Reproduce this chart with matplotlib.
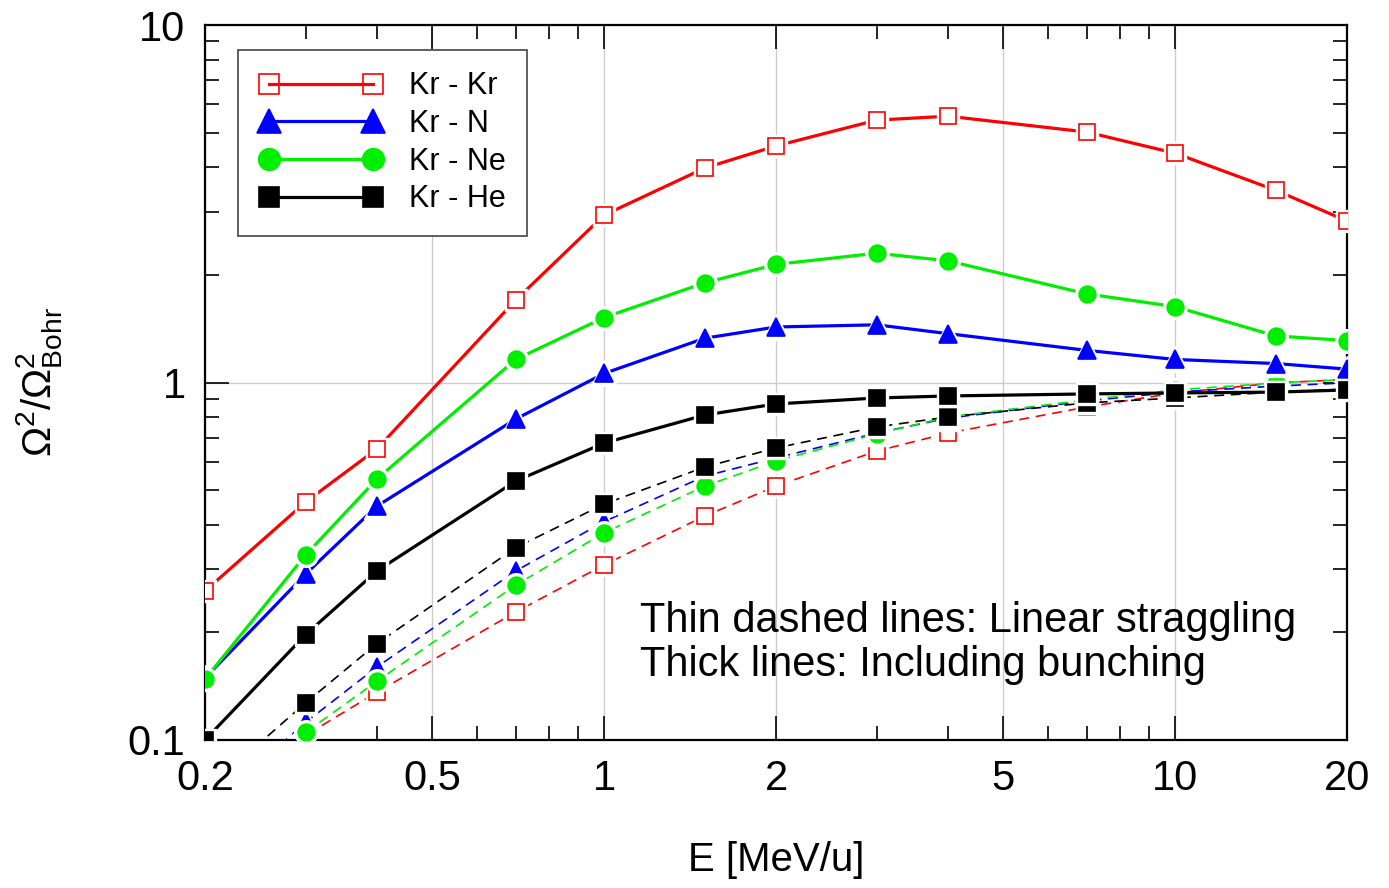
import numpy as np
import matplotlib
matplotlib.use('Agg')
import matplotlib.pyplot as plt
from matplotlib.ticker import FixedLocator, NullFormatter

plt.rcParams['font.family'] = ['Liberation Sans', 'DejaVu Sans']
plt.rcParams['mathtext.fontset'] = 'custom'
plt.rcParams['mathtext.rm'] = 'Liberation Sans'
plt.rcParams['mathtext.it'] = 'Liberation Sans'

# energies [MeV/u]
E = [0.2, 0.3, 0.4, 0.7, 1, 1.5, 2, 3, 4, 7, 10, 15, 20]

# thick lines: including bunching
kr_kr = [0.261, 0.463, 0.652, 1.70, 2.94, 3.98, 4.59, 5.42, 5.56, 5.02, 4.38, 3.45, 2.83]
kr_n = [0.149, 0.291, 0.451, 0.79, 1.06, 1.33, 1.43, 1.45, 1.37, 1.23, 1.16, 1.13, 1.09]
kr_ne = [0.148, 0.329, 0.537, 1.16, 1.52, 1.90, 2.14, 2.30, 2.19, 1.77, 1.63, 1.35, 1.31]
kr_he = [0.100, 0.197, 0.297, 0.53, 0.677, 0.811, 0.871, 0.905, 0.917, 0.929, 0.935, 0.94, 0.953]

# thin dashed lines: linear straggling
kr_kr_lin = [0.060, 0.103, 0.136, 0.228, 0.309, 0.423, 0.513, 0.643, 0.722, 0.854, 0.935, 0.997, 1.02]
kr_n_lin = [0.063, 0.112, 0.160, 0.297, 0.408, 0.547, 0.615, 0.722, 0.795, 0.888, 0.94, 0.977, 0.998]
kr_ne_lin = [0.060, 0.105, 0.146, 0.271, 0.380, 0.513, 0.603, 0.718, 0.801, 0.894, 0.953, 0.997, 1.02]
kr_he_lin = [0.072, 0.127, 0.186, 0.345, 0.457, 0.580, 0.656, 0.751, 0.801, 0.877, 0.905, 0.94, 0.959]

labels = ['Kr - Kr', 'Kr - N', 'Kr - Ne', 'Kr - He']
thick = [kr_kr, kr_n, kr_ne, kr_he]
thin = [kr_kr_lin, kr_n_lin, kr_ne_lin, kr_he_lin]
colors = ['#ff0000', '#0000ff', '#00ee00', '#000000']
markers = ['s', '^', 'o', 's']
ms = [11, 13.5, 12, 11]

fig = plt.figure(figsize=(13.89, 8.88), dpi=100)
ax = fig.add_axes([0.1476, 0.1667, 0.8222, 0.8051])


def draw(x, y, i, lw, dashes, z):
    face = 'none' if i == 0 else colors[i]
    kw = dict(dashes=dashes) if dashes else {}
    ax.plot(x, y, color=colors[i], lw=lw, zorder=z, **kw)
    # white halo -> small gap between line and marker
    ax.plot(x, y, ls='none', marker=markers[i], ms=ms[i] + 5, mfc='white',
            mec='white', zorder=z + 0.1)
    ax.plot(x, y, ls='none', marker=markers[i], ms=ms[i], mfc=face,
            mec=colors[i], mew=1.2, zorder=z + 0.2)


for i in range(4):
    draw(E, thin[i], i, 1.2, (6, 4), 2 + i)
for i in range(4):
    draw(E, thick[i], i, 2.3, None, 7 + i)

# legend handles: line with markers at both ends
handles = []
for i in range(4):
    face = 'none' if i == 0 else colors[i]
    h, = ax.plot([], [], color=colors[i], lw=2.3, marker=markers[i], ms=ms[i] * 1.3,
                 mfc=face, mec=colors[i], mew=1.2)
    handles.append(h)

ax.set_xscale('log')
ax.set_yscale('log')
ax.set_xlim(0.2, 20)
ax.set_ylim(0.1, 10)

ax.xaxis.set_major_locator(FixedLocator([0.2, 0.5, 1, 2, 5, 10, 20]))
ax.set_xticklabels(['0.2', '0.5', '1', '2', '5', '10', '20'])
ax.xaxis.set_minor_locator(FixedLocator([0.3, 0.4, 0.6, 0.7, 0.8, 0.9, 3, 4, 6, 7, 8, 9]))
ax.xaxis.set_minor_formatter(NullFormatter())
ax.yaxis.set_major_locator(FixedLocator([0.1, 1, 10]))
ax.set_yticklabels(['0.1', '1', '10'])
ax.yaxis.set_minor_locator(FixedLocator([0.2, 0.3, 0.4, 0.5, 0.6, 0.7, 0.8, 0.9,
                                         2, 3, 4, 5, 6, 7, 8, 9]))
ax.yaxis.set_minor_formatter(NullFormatter())

ax.tick_params(which='both', direction='in', top=True, right=True, labelsize=30, width=1.2)
ax.tick_params(which='major', length=17)
ax.tick_params(which='minor', length=10)
ax.tick_params(axis='x', which='major', pad=14)
ax.tick_params(axis='y', which='major', pad=14)
for s in ax.spines.values():
    s.set_linewidth(1.6)

ax.grid(True, which='major', color='#cccccc', lw=1.0)
ax.set_axisbelow(True)

ax.set_xlabel('E [MeV/u]', fontsize=29, labelpad=30)
ax.set_ylabel(r'$\Omega^2/\Omega^2_{\rm Bohr}$', fontsize=29, labelpad=46)

leg = ax.legend(handles, labels, loc='upper left', bbox_to_anchor=(0.029, 0.965), fontsize=22,
                numpoints=2, handlelength=4.0, handletextpad=0.9, labelspacing=0.25,
                borderpad=0.7, borderaxespad=0, fancybox=False, framealpha=1,
                edgecolor='#444444')
leg.get_frame().set_linewidth(1.2)
leg.set_zorder(20)

ax.text(640 / 1389, 1 - 621 / 888, 'Thin dashed lines: Linear straggling',
        transform=fig.transFigure, fontsize=30, va='center')
ax.text(640 / 1389, 1 - 665 / 888, 'Thick lines: Including bunching',
        transform=fig.transFigure, fontsize=30, va='center')

fig.savefig('out.png', dpi=100)
